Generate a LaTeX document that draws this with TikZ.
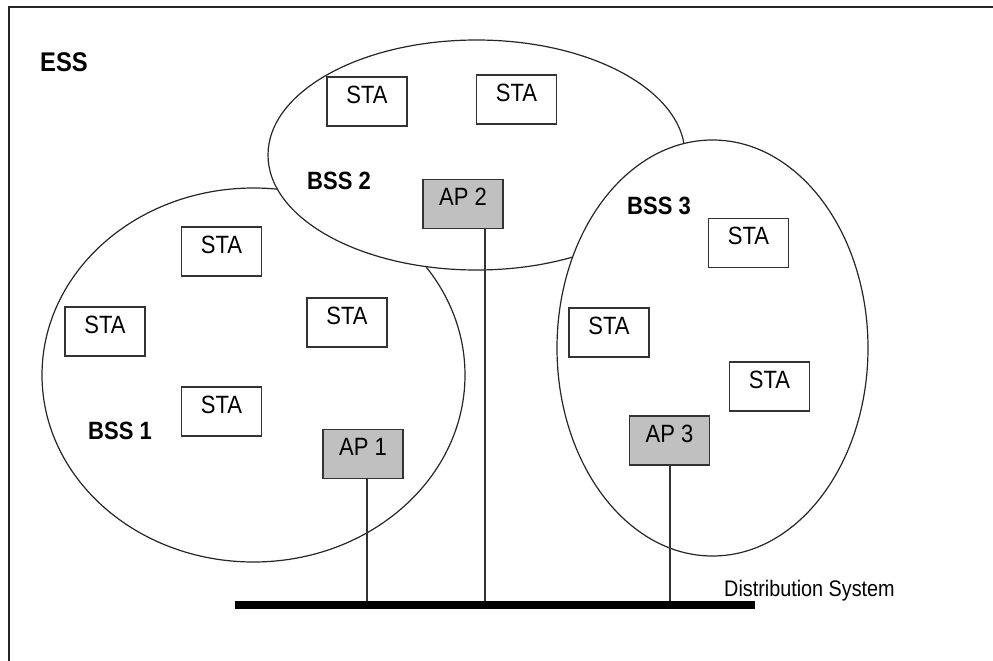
\documentclass[tikz,border=0pt]{standalone}
\usepackage{fontspec}
\newfontfamily\narrowsans[FakeStretch=0.88]{Liberation Sans}
\usetikzlibrary{shapes.geometric}
\definecolor{apgray}{HTML}{C0C0C0}
\definecolor{edge}{HTML}{333333}
\tikzset{
  cell/.style={ellipse, draw=black!85, line width=1.2pt, fill=white, inner sep=0pt},
  stabox/.style={draw=edge, line width=1.4pt, fill=white, minimum width=80pt, minimum height=49pt,
    inner sep=0pt, text height=18pt, text depth=15pt, font=\narrowsans\fontsize{25}{25}\selectfont},
  apbox/.style={stabox, fill=apgray},
  setlabel/.style={font=\narrowsans\bfseries\fontsize{25}{25}\selectfont, inner sep=0pt, anchor=base west},
  link/.style={draw=edge, line width=1.2pt},
  bus/.style={line width=8pt, black}
}
\begin{document}
\begin{tikzpicture}[x=1pt,y=-1pt]
  \useasboundingbox (0,0) rectangle (993,661);
  % frame of the extended service set (top and left edges)
  \coordinate (frameTL) at (9,7);
  \coordinate (frameTR) at (993,7);
  \coordinate (frameBL) at (9,661);
  \draw[line width=1.2pt, black!85] (frameTR) -- (frameTL) -- (frameBL);
  \node[setlabel, font=\narrowsans\bfseries\fontsize{27}{27}\selectfont] (ess) at (40,71) {ESS};

  % basic service sets, later ones cover earlier ones
  \node[cell, minimum width=423pt, minimum height=374pt] (bss1) at (253.5,375) {};
  \node[cell, minimum width=417pt, minimum height=230pt] (bss2) at (476.5,155) {};
  \node[cell, minimum width=311pt, minimum height=416pt] (bss3) at (712.5,348) {};

  \node[setlabel] (lbss1) at (88,439) {BSS 1};
  \node[setlabel] (lbss2) at (307,189) {BSS 2};
  \node[setlabel] (lbss3) at (627,214) {BSS 3};

  % stations
  \node[stabox] (sta2a) at (367,101.5) {STA};
  \node[stabox] (sta2b) at (516.5,99.5) {STA};
  \node[stabox] (sta1a) at (221.5,251.5) {STA};
  \node[stabox] (sta1b) at (105,331.5) {STA};
  \node[stabox] (sta1c) at (347,322.5) {STA};
  \node[stabox] (sta1d) at (221.5,411.5) {STA};
  \node[stabox] (sta3a) at (748.5,243) {STA};
  \node[stabox] (sta3b) at (609,332.5) {STA};
  \node[stabox] (sta3c) at (769.5,386.5) {STA};

  % access points
  \node[apbox] (ap1) at (363,454) {AP 1};
  \node[apbox] (ap2) at (463,204) {AP 2};
  \node[apbox] (ap3) at (669.5,440.5) {AP 3};

  % distribution system
  \coordinate (busL) at (235,605);
  \coordinate (busR) at (755,605);
  \coordinate (tap1) at (367,601);
  \coordinate (tap2) at (485,601);
  \coordinate (tap3) at (670,601);
  \draw[link] (tap1 |- ap1.south) -- (tap1);
  \draw[link] (tap2 |- ap2.south) -- (tap2);
  \draw[link] (tap3 |- ap3.south) -- (tap3);
  \draw[bus] (busL) -- (busR);
  \node[font=\narrowsans\fontsize{22.5}{22.5}\selectfont, inner sep=0pt, anchor=base west] (ds) at (724,596) {Distribution System};
\end{tikzpicture}
\end{document}
